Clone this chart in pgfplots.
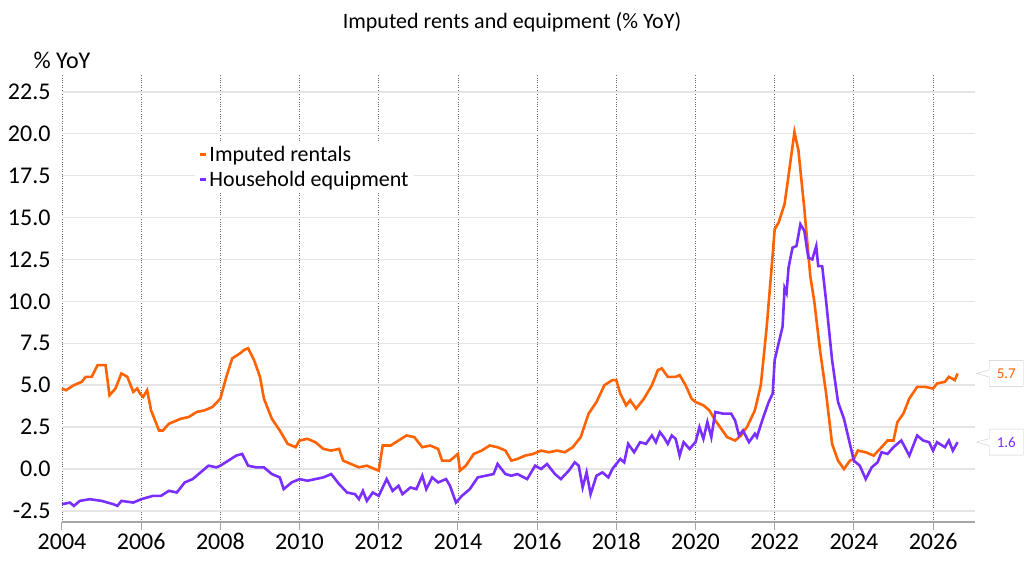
\documentclass[border=0pt]{standalone}
\usepackage{pgfplots}
\pgfplotsset{compat=1.18}
\usepackage{fontspec}
\setmainfont{Carlito}
\usetikzlibrary{shapes.callouts}
\definecolor{ingor}{HTML}{FF6200}
\definecolor{ingpu}{HTML}{7A2EFF}
\begin{document}
\begin{tikzpicture}[x=1pt,y=1pt]
\useasboundingbox (-62,-54) rectangle (962,522);
\begin{axis}[at={(0pt,0pt)},anchor=south west,scale only axis,width=913pt,height=447pt,
 xmin=2004,xmax=2027.06,ymin=-3.16,ymax=23.5,clip=false,
 axis lines*=left, y axis line style={draw=none}, x axis line style={draw=black!35,line width=1.5pt},
 xtick={2004,2006,...,2026}, ytick={-2.5,0,...,22.5},
 xticklabel style={/pgf/number format/1000 sep={}},
 yticklabel style={/pgf/number format/.cd,fixed,fixed zerofill,precision=1},
 /pgf/number format/assume math mode=true,
 tick label style={font=\fontsize{24}{24}\selectfont},
 ytick style={draw=none}, xtick style={draw=black!35,line width=1pt},
 tick align=outside, major tick length=8pt,
 grid=major, major y grid style={draw=black!10,line width=1.5pt},
 major x grid style={draw=black!60,dotted,line width=0.8pt},
 legend style={at={(0.146,0.85)},anchor=north west,draw=none,fill=white,font=\fontsize{22}{26}\selectfont,row sep=4pt},
 legend cell align=left,
 legend image code/.code={\draw[#1,line width=3pt] (0pt,0pt) -- (6pt,0pt);}
]
\addplot[ingor,line width=2.6pt] coordinates {
(2004.0,4.8)(2004.1,4.7)(2004.3,5.0)(2004.5,5.2)(2004.6,5.5)(2004.75,5.5)(2004.9,6.2)(2005.1,6.2)(2005.2,4.4)(2005.35,4.8)(2005.5,5.7)(2005.65,5.5)(2005.8,4.6)(2005.9,4.8)(2005.97,4.5)(2006.05,4.3)(2006.15,4.7)(2006.25,3.5)(2006.45,2.3)(2006.55,2.3)(2006.7,2.7)(2007.0,3.0)(2007.2,3.1)(2007.4,3.4)(2007.6,3.5)(2007.8,3.7)(2008.0,4.2)(2008.15,5.5)(2008.3,6.6)(2008.5,6.9)(2008.6,7.1)(2008.7,7.2)(2008.85,6.5)(2009.0,5.5)(2009.1,4.2)(2009.3,3.0)(2009.5,2.3)(2009.7,1.5)(2009.9,1.3)(2010.0,1.7)(2010.2,1.8)(2010.4,1.6)(2010.6,1.2)(2010.8,1.1)(2011.0,1.2)(2011.1,0.5)(2011.3,0.3)(2011.5,0.1)(2011.7,0.2)(2011.9,0.0)(2012.0,-0.1)(2012.1,1.4)(2012.3,1.4)(2012.5,1.7)(2012.7,2.0)(2012.9,1.9)(2013.1,1.3)(2013.3,1.4)(2013.5,1.2)(2013.6,0.5)(2013.8,0.5)(2014.0,0.9)(2014.05,-0.1)(2014.2,0.2)(2014.4,0.9)(2014.6,1.1)(2014.8,1.4)(2015.0,1.3)(2015.2,1.1)(2015.35,0.5)(2015.5,0.6)(2015.7,0.8)(2015.9,0.9)(2016.1,1.1)(2016.3,1.0)(2016.5,1.1)(2016.7,1.0)(2016.9,1.3)(2017.1,1.9)(2017.3,3.3)(2017.5,4.0)(2017.7,5.0)(2017.9,5.3)(2018.0,5.3)(2018.1,4.5)(2018.25,3.8)(2018.35,4.1)(2018.5,3.6)(2018.7,4.2)(2018.9,5.0)(2019.05,5.9)(2019.15,6.0)(2019.3,5.5)(2019.5,5.5)(2019.6,5.6)(2019.75,5.0)(2019.9,4.2)(2020.0,4.0)(2020.2,3.8)(2020.35,3.5)(2020.5,2.9)(2020.65,2.4)(2020.8,1.9)(2021.0,1.7)(2021.15,2.0)(2021.3,2.5)(2021.5,3.5)(2021.65,5.0)(2021.8,8.5)(2021.95,12.8)(2022.0,14.3)(2022.1,14.7)(2022.25,15.8)(2022.35,17.5)(2022.5,20.1)(2022.6,19.0)(2022.75,15.5)(2022.9,11.5)(2023.0,10.0)(2023.15,7.0)(2023.3,4.5)(2023.45,1.5)(2023.6,0.5)(2023.75,0.0)(2023.9,0.5)(2024.0,0.6)(2024.1,1.1)(2024.3,1.0)(2024.5,0.8)(2024.7,1.3)(2024.85,1.7)(2025.0,1.7)(2025.1,2.8)(2025.25,3.3)(2025.4,4.2)(2025.6,4.9)(2025.8,4.9)(2026.0,4.8)(2026.1,5.1)(2026.3,5.2)(2026.4,5.5)(2026.55,5.3)(2026.62,5.7)};
\addlegendentry{Imputed rentals}
\addplot[ingpu,line width=2.6pt] coordinates {
(2004.0,-2.1)(2004.2,-2.0)(2004.3,-2.2)(2004.45,-1.9)(2004.7,-1.8)(2005.0,-1.9)(2005.3,-2.1)(2005.4,-2.2)(2005.5,-1.9)(2005.8,-2.0)(2006.0,-1.8)(2006.3,-1.6)(2006.5,-1.6)(2006.7,-1.3)(2006.9,-1.4)(2007.1,-0.8)(2007.3,-0.6)(2007.5,-0.2)(2007.7,0.2)(2007.9,0.1)(2008.0,0.2)(2008.2,0.5)(2008.4,0.8)(2008.55,0.9)(2008.7,0.2)(2008.9,0.1)(2009.1,0.1)(2009.3,-0.3)(2009.5,-0.5)(2009.6,-1.2)(2009.8,-0.8)(2010.0,-0.6)(2010.2,-0.7)(2010.4,-0.6)(2010.6,-0.5)(2010.8,-0.3)(2011.0,-0.9)(2011.2,-1.4)(2011.4,-1.5)(2011.5,-1.8)(2011.6,-1.3)(2011.7,-1.9)(2011.85,-1.4)(2012.0,-1.6)(2012.1,-1.1)(2012.2,-0.6)(2012.35,-1.3)(2012.5,-1.0)(2012.6,-1.5)(2012.8,-1.1)(2012.95,-1.2)(2013.1,-0.4)(2013.2,-1.2)(2013.35,-0.5)(2013.5,-0.8)(2013.7,-0.6)(2013.8,-1.0)(2013.95,-2.0)(2014.1,-1.6)(2014.3,-1.2)(2014.5,-0.5)(2014.7,-0.4)(2014.9,-0.3)(2015.0,0.3)(2015.2,-0.3)(2015.35,-0.4)(2015.5,-0.3)(2015.75,-0.6)(2015.95,0.2)(2016.1,0.0)(2016.25,0.3)(2016.45,-0.3)(2016.6,-0.6)(2016.8,-0.1)(2016.95,0.4)(2017.05,0.2)(2017.15,-1.1)(2017.25,-0.2)(2017.35,-1.5)(2017.5,-0.4)(2017.65,-0.2)(2017.8,-0.5)(2017.9,0.0)(2018.1,0.6)(2018.2,0.4)(2018.3,1.5)(2018.45,1.0)(2018.6,1.6)(2018.75,1.5)(2018.9,2.0)(2019.0,1.6)(2019.1,2.2)(2019.2,1.9)(2019.3,1.5)(2019.4,2.0)(2019.5,1.8)(2019.6,0.8)(2019.7,1.6)(2019.85,1.2)(2020.0,1.6)(2020.1,2.5)(2020.2,1.8)(2020.3,2.8)(2020.4,1.9)(2020.5,3.4)(2020.7,3.3)(2020.9,3.3)(2021.0,2.9)(2021.1,2.0)(2021.2,2.3)(2021.35,1.6)(2021.5,2.1)(2021.55,1.9)(2021.7,3.0)(2021.85,4.0)(2021.95,4.5)(2022.0,6.5)(2022.1,7.5)(2022.2,8.5)(2022.25,10.8)(2022.3,10.5)(2022.35,12.0)(2022.45,13.2)(2022.55,13.3)(2022.65,14.6)(2022.75,14.2)(2022.85,12.6)(2022.95,12.5)(2023.05,13.3)(2023.1,12.1)(2023.2,12.1)(2023.3,10.0)(2023.45,6.5)(2023.6,4.0)(2023.75,3.0)(2023.85,2.0)(2024.0,0.5)(2024.15,0.2)(2024.3,-0.6)(2024.45,0.1)(2024.6,0.4)(2024.7,1.0)(2024.85,0.9)(2025.0,1.3)(2025.2,1.7)(2025.4,0.8)(2025.6,2.0)(2025.75,1.7)(2025.9,1.6)(2026.0,1.1)(2026.1,1.6)(2026.3,1.3)(2026.4,1.7)(2026.5,1.1)(2026.62,1.6)};
\addlegendentry{Household equipment}
\node[rectangle callout,draw=black!20,fill=white,text=ingor,font=\fontsize{15}{15}\selectfont,minimum height=26pt,minimum width=34pt,callout absolute pointer={(axis cs:2027.1,5.7)}] at (axis cs:2027.85,5.7) {5.7};
\node[rectangle callout,draw=black!20,fill=white,text=ingpu,font=\fontsize{15}{15}\selectfont,minimum height=26pt,minimum width=34pt,callout absolute pointer={(axis cs:2027.1,1.6)}] at (axis cs:2027.85,1.6) {1.6};
\end{axis}
\node[font=\fontsize{22}{22}\selectfont] at (450,500) {Imputed rents and equipment (\% YoY)};
\node[font=\fontsize{24}{24}\selectfont] at (0,462) {\% YoY};
\end{tikzpicture}
\end{document}
